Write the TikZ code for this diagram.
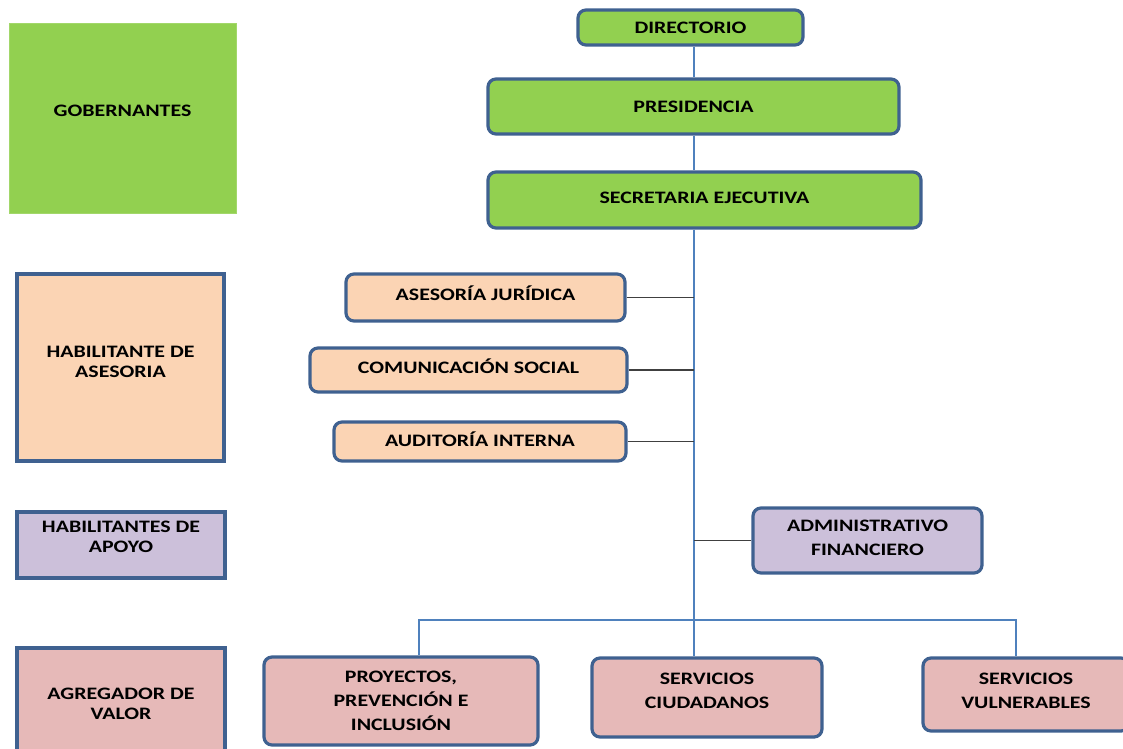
\documentclass[tikz,border=0pt]{standalone}
\usepackage{fontspec}
\setmainfont{Carlito}[FakeStretch=1.25]
\usetikzlibrary{calc}
\definecolor{verde}{HTML}{92D050}
\definecolor{durazno}{HTML}{FBD4B4}
\definecolor{lila}{HTML}{CCC0DA}
\definecolor{rosa}{HTML}{E6B9B8}
\definecolor{borde}{HTML}{3F6190}
\definecolor{azul}{HTML}{4F81BD}
\definecolor{gris}{HTML}{404040}

\begin{document}
\begin{tikzpicture}[
    x = 1pt, y = -1pt,
    font = \fontsize{17.5}{24}\selectfont\bfseries,
    caja/.style = {draw=borde, line width=3.2pt, rounded corners=8pt,
        align=center, inner sep=0pt},
    nivel/.style = {draw=borde, line width=3.2pt, align=center, inner sep=0pt,
        font=\fontsize{17.5}{20}\selectfont\bfseries},
    subir/.style = {text depth=#1},
    linea/.style = {draw=azul, line width=1.3pt},
    rama/.style = {draw=gris, line width=1.3pt}
  ]
  \clip (0,0) rectangle (1123,748);

  % niveles
  \node[nivel, draw=verde!85!white, line width=1pt, fill=verde, subir=14pt,
    minimum width=227pt, minimum height=190pt] (GOB) at (122.5,118) {GOBERNANTES};
  \node[nivel, fill=durazno, subir=12pt, minimum width=207pt, minimum height=187pt]
    (ASE) at (120.5,367.5) {HABILITANTE DE\\ASESORIA};
  \node[nivel, fill=lila, subir=16pt, minimum width=208pt, minimum height=66pt]
    (APO) at (121,545) {HABILITANTES DE\\APOYO};
  \node[nivel, fill=rosa, minimum width=208pt, minimum height=112pt]
    (VAL) at (121,704) {AGREGADOR DE\\VALOR};

  % unidades
  \node[caja, fill=verde, minimum width=225pt, minimum height=35pt]
    (DIR) at (690.5,27.5) {DIRECTORIO};
  \node[caja, fill=verde, minimum width=411pt, minimum height=55pt]
    (PRES) at (693.5,106.5) {PRESIDENCIA};
  \node[caja, fill=verde, subir=4pt, minimum width=433pt, minimum height=56pt]
    (SEC) at (704.5,200) {SECRETARIA EJECUTIVA};
  \node[caja, fill=durazno, subir=9pt, minimum width=279pt, minimum height=47pt]
    (JUR) at (485.5,297.5) {ASESORÍA JURÍDICA};
  \node[caja, fill=durazno, subir=8pt, minimum width=317pt, minimum height=44pt]
    (COM) at (468.5,370) {COMUNICACIÓN SOCIAL};
  \node[caja, fill=durazno, subir=5pt, minimum width=292pt, minimum height=39pt]
    (AUD) at (480,441.5) {AUDITORÍA INTERNA};
  \node[caja, fill=lila, subir=6pt, minimum width=229pt, minimum height=65pt]
    (ADM) at (867.5,540.5) {ADMINISTRATIVO\\FINANCIERO};
  \node[caja, fill=rosa, minimum width=274pt, minimum height=88pt]
    (PROY) at (401,701) {PROYECTOS,\\PREVENCIÓN E\\INCLUSIÓN};
  \node[caja, fill=rosa, subir=14pt, minimum width=230pt, minimum height=79pt]
    (CIUD) at (707,697.5) {SERVICIOS\\CIUDADANOS};
  \node[caja, fill=rosa, subir=8pt, minimum width=206pt, minimum height=73pt]
    (VULN) at (1026,694.5) {SERVICIOS\\VULNERABLES};

  % lineas
  \coordinate (TR) at (694,0);
  \coordinate (BL) at (419,620);
  \coordinate (BR) at (1016,620);
  \draw[linea] (DIR.south -| TR) -- (PRES.north -| TR);
  \draw[linea] (PRES.south -| TR) -- (SEC.north -| TR);
  \draw[linea] (SEC.south -| TR) -- (CIUD.north -| TR);
  \foreach \n in {JUR, COM, AUD}
    \draw[rama] (\n.east) -- (\n.east -| TR);
  \draw[rama] (ADM.west) -- (ADM.west -| TR);
  \draw[linea] (PROY.north -| BL) -- (BL) -- (BR) -- (VULN.north -| BR);
\end{tikzpicture}
\end{document}
